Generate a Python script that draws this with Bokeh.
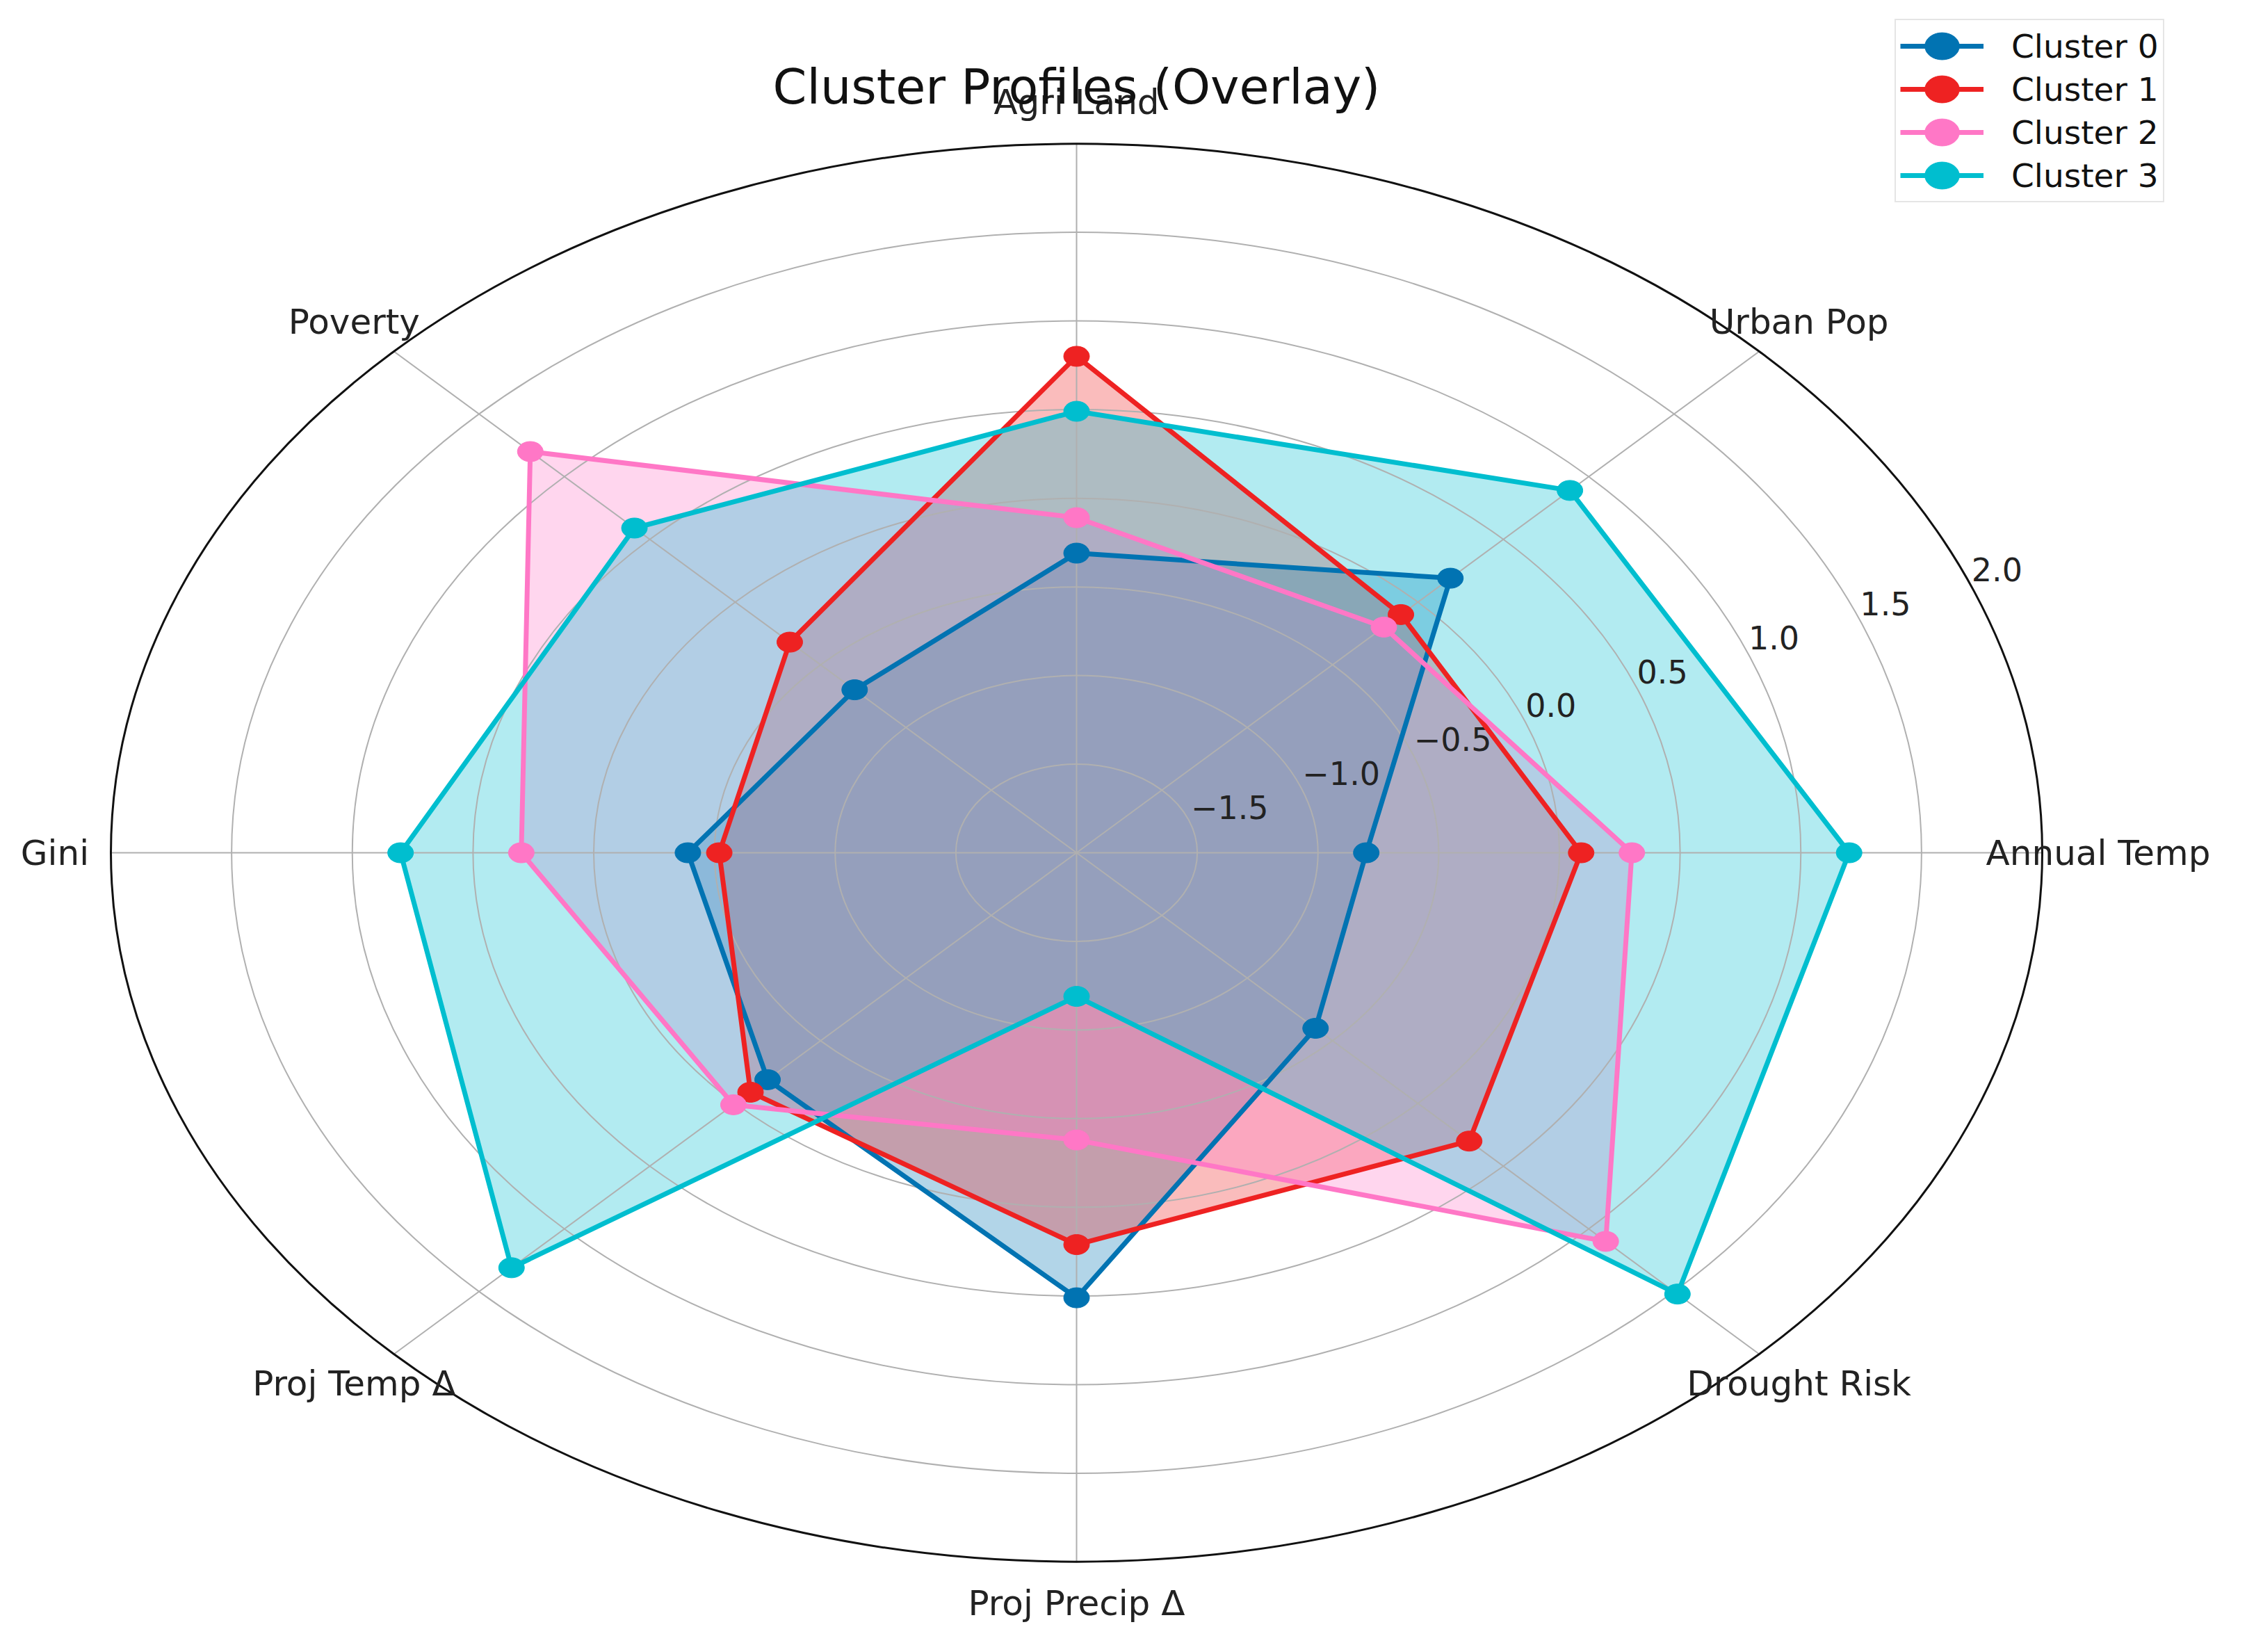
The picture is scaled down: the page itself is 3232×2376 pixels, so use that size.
import numpy as np
from bokeh.plotting import figure
from bokeh.models import Range1d, Label, Legend, LegendItem
from bokeh.embed import file_html
from bokeh.resources import INLINE
from bokeh.core.properties import value

# ---------------- data ----------------
categories = ["Annual Temp", "Urban Pop", "Agri Land", "Poverty", "Gini",
              "Proj Temp Δ", "Proj Precip Δ", "Drought Risk"]
cluster_names = ["Cluster 0", "Cluster 1", "Cluster 2", "Cluster 3"]
cluster0 = [-0.80, 0.19, -0.31, -0.70, -0.39, -0.19, 0.51, -0.60]
cluster1 = [0.09, -0.10, 0.80, -0.32, -0.52, -0.09, 0.21, 0.30]
cluster2 = [0.30, -0.20, -0.11, 1.20, 0.30, 0.01, -0.38, 1.10]
cluster3 = [1.20, 0.89, 0.49, 0.59, 0.80, 1.31, -1.19, 1.52]
colors = ["#0173B2", "#EE2222", "#FF77C6", "#00BECF"]
r_ticks = [-1.5, -1.0, -0.5, 0.0, 0.5, 1.0, 1.5, 2.0]
r_min, r_max = -2.0, 2.0
title_text = "Cluster Profiles (Overlay)"

series = [cluster0, cluster1, cluster2, cluster3]

# ---------------- layout ----------------
W, H = 3216, 2360
CX, CY = 1548, 1226      # pole position in pixels (from top-left)
RX, RY = 1389, 1020      # outer ring radii in pixels
FONT = value("DejaVu Sans")

p = figure(width=W, height=H, output_backend="svg", toolbar_location=None,
           x_range=Range1d(-CX / RX, (W - CX) / RX),
           y_range=Range1d(-(H - CY) / RY, CY / RY),
           x_axis_type=None, y_axis_type=None, min_border=0,
           outline_line_color=None, background_fill_color="white",
           border_fill_color="white")
p.grid.visible = False


def frac(v):
    return (np.asarray(v, dtype=float) - r_min) / (r_max - r_min)


n = len(categories)
theta = np.arange(n) * 2 * np.pi / n

# ---------------- fills ----------------
for vals, c in zip(series, colors):
    f = frac(vals)
    xs = list(f * np.cos(theta)) + [f[0] * np.cos(theta[0])]
    ys = list(f * np.sin(theta)) + [f[0] * np.sin(theta[0])]
    p.patch(xs, ys, fill_color=c, fill_alpha=0.3, line_color=None)

# ---------------- grid ----------------
ring_f = frac(r_ticks[:-1])
p.ellipse(x=[0] * len(ring_f), y=[0] * len(ring_f), width=2 * ring_f, height=2 * ring_f,
          fill_color=None, line_color="#b0b0b0", line_width=2)
p.segment(x0=[0] * n, y0=[0] * n, x1=np.cos(theta), y1=np.sin(theta),
          line_color="#b0b0b0", line_width=2)

# radial tick labels at 22.5 degrees
ang = np.deg2rad(22.5)
tf = frac(r_ticks)
tick_labels = [("%.1f" % t).replace("-", "\u2212") for t in r_ticks]
p.text(x=tf * np.cos(ang), y=tf * np.sin(ang), text=tick_labels,
       text_align="left", text_baseline="bottom", text_font=FONT,
       text_font_size="46px", text_color="#222222", x_offset=4)

# ---------------- lines + markers ----------------
items = []
for vals, c, name in zip(series, colors, cluster_names):
    f = frac(vals)
    xs = list(f * np.cos(theta)) + [f[0] * np.cos(theta[0])]
    ys = list(f * np.sin(theta)) + [f[0] * np.sin(theta[0])]
    lr = p.line(xs, ys, line_color=c, line_width=7, line_join="round")
    mr = p.ellipse(x=f * np.cos(theta), y=f * np.sin(theta), width=37, height=29,
                   width_units="screen", height_units="screen",
                   fill_color=c, line_color=c)
    items.append(LegendItem(label=name, renderers=[lr, mr]))

# outer ring (spine)
p.ellipse(x=[0], y=[0], width=[2 * frac(r_max)], height=[2 * frac(r_max)],
          fill_color=None, line_color="#111111", line_width=3)

# ---------------- category labels ----------------
lab_f = 1.058
p.text(x=lab_f * np.cos(theta), y=lab_f * np.sin(theta), text=categories,
       text_align="center", text_baseline="middle", text_font=FONT,
       text_font_size="50px", text_color="#222222")

# ---------------- title ----------------
p.add_layout(Label(x=0, y=H - 124, y_units="screen", text=title_text,
                   text_align="center", text_baseline="alphabetic",
                   text_font="DejaVu Sans", text_font_size="70px",
                   text_color="#111111"))

# ---------------- legend ----------------
pad, row_h, gap = 6, 62, 0
leg_h = 2 * pad + 4 * row_h + 3 * gap
legend = Legend(items=items, location=(2725, H - 31 - leg_h), margin=0,
                padding=pad, spacing=gap, glyph_width=120, glyph_height=row_h,
                label_height=row_h, label_standoff=40,
                label_text_font="DejaVu Sans", label_text_font_size="47px",
                label_text_color="#111111",
                border_line_color="#cccccc", border_line_width=2,
                background_fill_color="white", background_fill_alpha=1.0)
p.add_layout(legend)

open("out.html", "w").write(file_html(p, INLINE))
